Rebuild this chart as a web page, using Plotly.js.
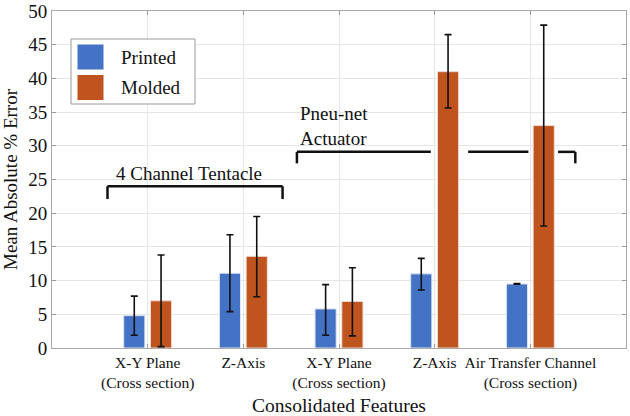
<!DOCTYPE html>
<html><head><meta charset="utf-8">
<script src="https://cdn.plot.ly/plotly-3.0.1.min.js"></script>
<style>html,body{margin:0;padding:0;background:#fff}#c{width:630px;height:416px}</style>
</head><body><div id="c"></div>
<script>
const categories = ["X-Y Plane<br>(Cross section)", "Z-Axis", "X-Y Plane<br>(Cross section)", "Z-Axis", "Air Transfer Channel<br>(Cross section)"];
const catPos = [1, 2, 3, 4, 5];
const seriesNames = ["Printed", "Molded"];
const printedMean = [4.8, 11.1, 5.8, 11.0, 9.5];
const printedUpper = [7.7, 16.8, 9.4, 13.3, 9.55];
const printedLower = [1.9, 5.4, 1.9, 8.6, 9.45];
const moldedMean = [7.0, 13.6, 6.9, 41.0, 33.0];
const moldedUpper = [13.8, 19.5, 11.9, 46.5, 47.9];
const moldedLower = [0.2, 7.6, 1.8, 35.6, 18.1];
const yTicks = [0, 5, 10, 15, 20, 25, 30, 35, 40, 45, 50];

// group brackets (data coordinates)
const tentacleBracket = {x0: 0.58, x1: 2.41, y: 24.0, yEnd: 22.1, label: "4 Channel Tentacle", labelX: 1.43, labelY: 25.9};
const pneuSegments = [[2.56, 3.96], [4.35, 4.98], [5.29, 5.47]];
const pneuBracket = {y: 29.1, yEnd: 27.4, label: "Pneu-net<br>Actuator", labelX: 2.57, labelY: 33.0};

const FAM = "Liberation Serif";
const TXT = "#111";
const blue = "#4472C4", orange = "#C0541F";
const colors = [blue, orange];
const fnt = s => ({family: FAM, size: s, color: TXT});

const traces = [
  {type: "bar", name: seriesNames[0], x: catPos, y: printedMean,
   marker: {color: blue, line: {color: "#dfe6f2", width: 1}},
   error_y: {type: "data", symmetric: false,
     array: printedUpper.map((u, i) => u - printedMean[i]),
     arrayminus: printedMean.map((m, i) => m - printedLower[i]),
     color: "#111", thickness: 1.6, width: 3.5}},
  {type: "bar", name: seriesNames[1], x: catPos, y: moldedMean,
   marker: {color: orange, line: {color: "#f0dcd2", width: 1}},
   error_y: {type: "data", symmetric: false,
     array: moldedUpper.map((u, i) => u - moldedMean[i]),
     arrayminus: moldedMean.map((m, i) => m - moldedLower[i]),
     color: "#111", thickness: 1.6, width: 3.5}}
];

const shapes = [];
const bl = {color: "#111", width: 2.5};
shapes.push({type: "line", xref: "x", yref: "y", x0: tentacleBracket.x0, x1: tentacleBracket.x1, y0: tentacleBracket.y, y1: tentacleBracket.y, line: bl});
shapes.push({type: "line", xref: "x", yref: "y", x0: tentacleBracket.x0, x1: tentacleBracket.x0, y0: tentacleBracket.y, y1: tentacleBracket.yEnd, line: bl});
shapes.push({type: "line", xref: "x", yref: "y", x0: tentacleBracket.x1, x1: tentacleBracket.x1, y0: tentacleBracket.y, y1: tentacleBracket.yEnd, line: bl});
pneuSegments.forEach(s => shapes.push({type: "line", xref: "x", yref: "y", x0: s[0], x1: s[1], y0: pneuBracket.y, y1: pneuBracket.y, line: bl}));
shapes.push({type: "line", xref: "x", yref: "y", x0: pneuSegments[0][0], x1: pneuSegments[0][0], y0: pneuBracket.y, y1: pneuBracket.yEnd, line: bl});
const lastX = pneuSegments[pneuSegments.length - 1][1];
shapes.push({type: "line", xref: "x", yref: "y", x0: lastX, x1: lastX, y0: pneuBracket.y, y1: pneuBracket.yEnd, line: bl});

// legend drawn as a boxed key (pixel layout converted to paper coords)
const M = {l: 52, r: 4, t: 11, b: 68}, W = 630, H = 416;
const pw = W - M.l - M.r, ph = H - M.t - M.b;
const px = x => (x - M.l) / pw, py = y => 1 - (y - M.t) / ph;
shapes.push({type: "rect", xref: "paper", yref: "paper", x0: px(71), x1: px(195), y0: py(39), y1: py(104),
  line: {color: "#999", width: 1}, fillcolor: "#fff"});
const annotations = [];
seriesNames.forEach((n, i) => {
  const top = 44 + i * 30.5;
  shapes.push({type: "rect", xref: "paper", yref: "paper", x0: px(77), x1: px(104), y0: py(top), y1: py(top + 26),
    line: {color: "#fff", width: 1}, fillcolor: colors[i]});
  annotations.push({xref: "paper", yref: "paper", x: px(119), y: py(top + 13), xanchor: "left", yanchor: "middle",
    text: n, showarrow: false, font: fnt(19)});
});

annotations.push(
  {xref: "x", yref: "y", x: tentacleBracket.labelX, y: tentacleBracket.labelY,
   text: tentacleBracket.label, showarrow: false, font: fnt(19)},
  {xref: "x", yref: "y", x: pneuBracket.labelX, y: pneuBracket.labelY, xanchor: "left", align: "left",
   text: pneuBracket.label, showarrow: false, font: fnt(19)}
);

const layout = {
  width: W, height: H,
  margin: M,
  paper_bgcolor: "#fff", plot_bgcolor: "#fff",
  font: fnt(16),
  barmode: "group", bargap: 0.44, bargroupgap: 0.21,
  showlegend: false,
  xaxis: {range: [0, 6], tickvals: catPos, ticktext: categories, tickangle: 0,
    showgrid: true, gridcolor: "#e6e6e6", zeroline: false,
    showline: true, linecolor: "#aaa", linewidth: 1, mirror: "ticks",
    ticks: "inside", ticklen: 4, tickcolor: "#999",
    tickfont: fnt(15.5),
    title: {text: "Consolidated Features", font: fnt(19.5), standoff: 8}},
  yaxis: {range: [0, 50], tickvals: yTicks,
    showgrid: true, gridcolor: "#e6e6e6", zeroline: false,
    showline: true, linecolor: "#aaa", linewidth: 1, mirror: "ticks",
    ticks: "inside", ticklen: 4, tickcolor: "#999",
    tickfont: fnt(19),
    title: {text: "Mean Absolute % Error", font: fnt(19), standoff: 6}},
  shapes: shapes,
  annotations: annotations
};

Plotly.newPlot("c", traces, layout, {staticPlot: true});
</script>
</body></html>
